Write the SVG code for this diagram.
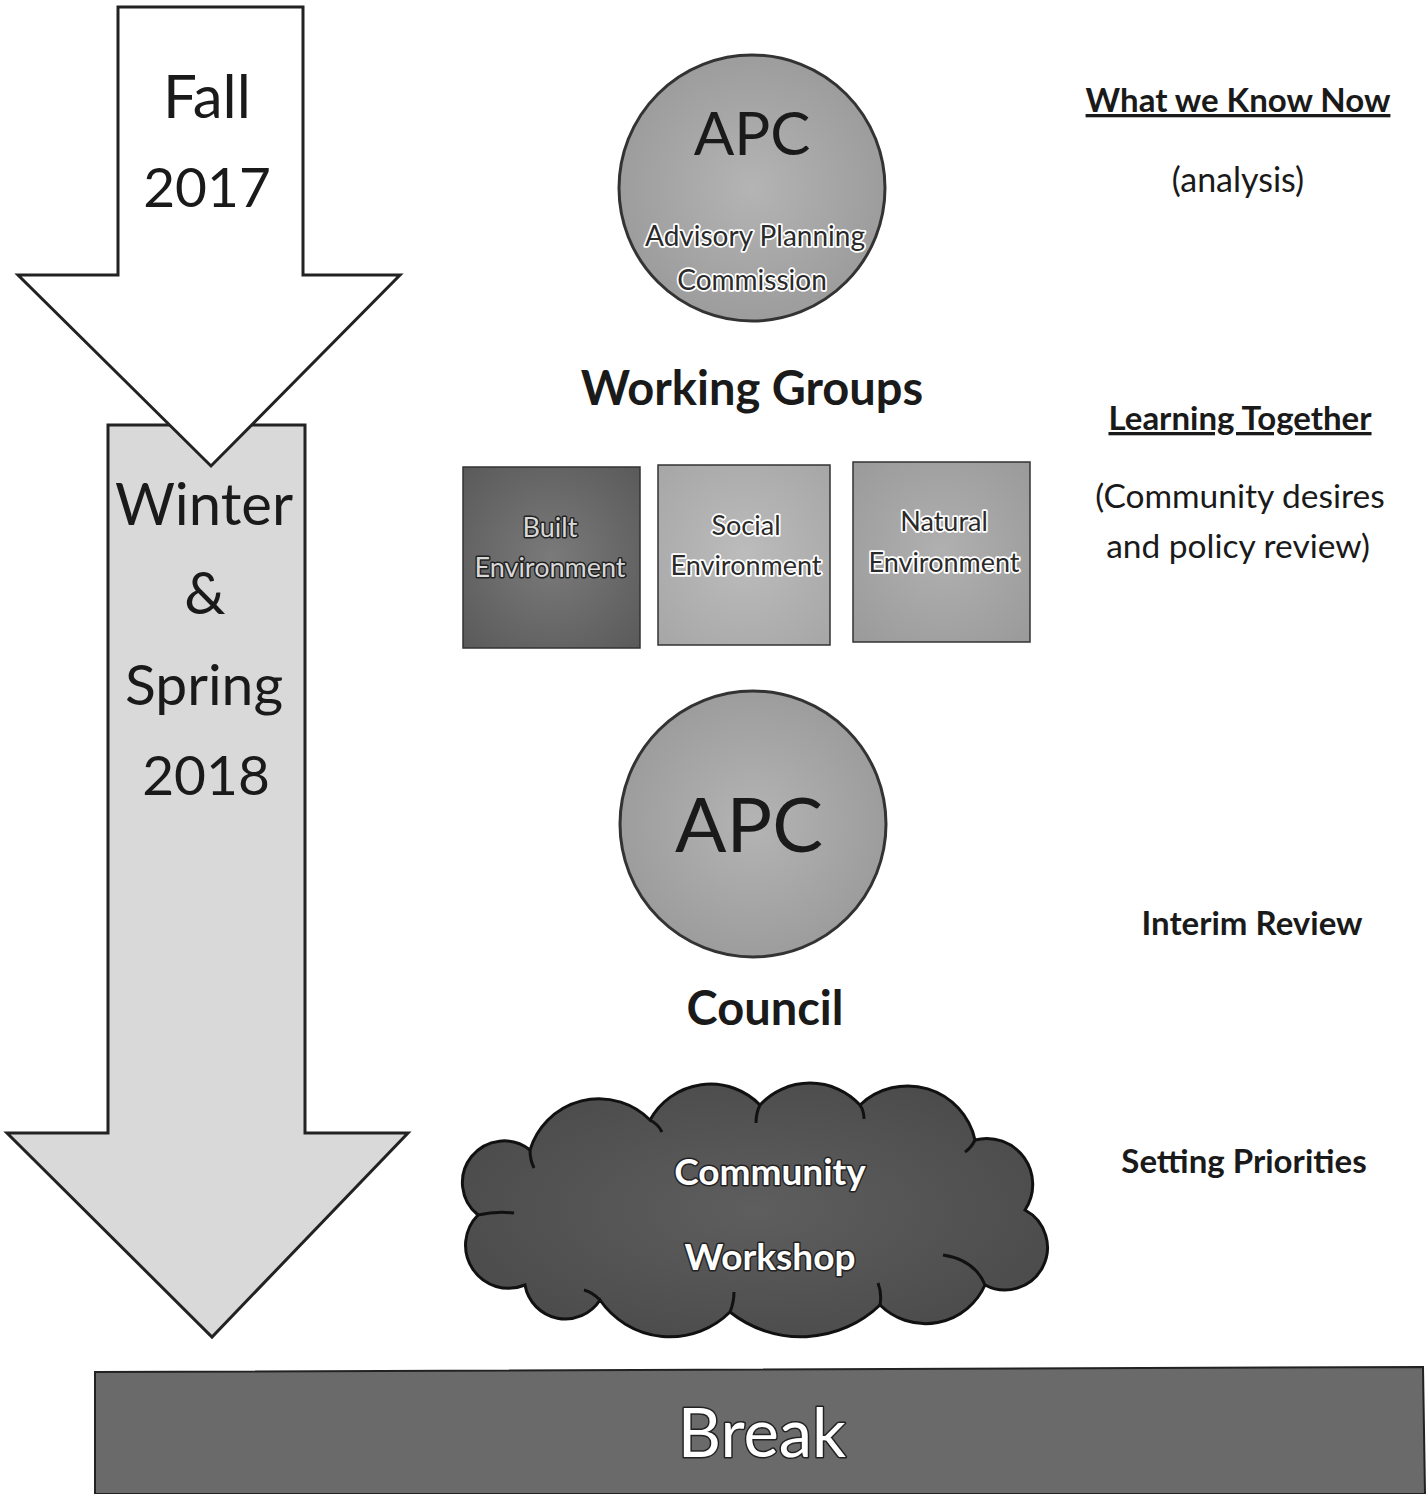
<svg xmlns="http://www.w3.org/2000/svg" width="1427" height="1494" viewBox="0 0 1427 1494">
<defs>
<radialGradient id="gBuilt" cx="50%" cy="50%" r="70%"><stop offset="0" stop-color="#7a7a7a"/><stop offset="1" stop-color="#5a5a5a"/></radialGradient>
<radialGradient id="gSoc" cx="50%" cy="50%" r="70%"><stop offset="0" stop-color="#bcbcbc"/><stop offset="1" stop-color="#a6a6a6"/></radialGradient>
<radialGradient id="gNat" cx="50%" cy="50%" r="70%"><stop offset="0" stop-color="#b0b0b0"/><stop offset="1" stop-color="#9a9a9a"/></radialGradient>
<radialGradient id="gCirc" cx="50%" cy="50%" r="60%"><stop offset="0" stop-color="#b4b4b4"/><stop offset="1" stop-color="#989898"/></radialGradient>
<radialGradient id="gCloud" cx="50%" cy="50%" r="60%"><stop offset="0" stop-color="#5e5e5e"/><stop offset="1" stop-color="#4a4a4a"/></radialGradient>
</defs>
<style>
.t{font-family:Lato,"Open Sans","Liberation Sans",sans-serif;fill:#1a1a1a;text-anchor:middle}
.b{font-weight:bold}
.edge{stroke:#222;stroke-width:3;stroke-linejoin:miter}
.halo{fill:#fff;stroke:#fff;stroke-width:3.5;stroke-linejoin:round}
.dk{fill:#2a2a2a}
.haloD{fill:#222;stroke:#222;stroke-width:3;stroke-linejoin:round}
.lt{fill:#d8d8d8}
.wt{fill:#fff;stroke:#222;stroke-width:3;paint-order:stroke;stroke-linejoin:round}
</style>
<rect width="1427" height="1494" fill="#fff"/>

<g id="arrow-winter">
<polygon class="edge" fill="#d9d9d9" points="108,425 305,425 305,1133 408,1133 212,1337 7,1133 108,1133"/>
<text class="t" x="204" y="525" font-size="58">Winter</text>
<text class="t" x="205" y="614" font-size="58">&amp;</text>
<text class="t" x="204" y="705" font-size="57">Spring</text>
<text class="t" x="206" y="795" font-size="55">2018</text>
</g>

<g id="arrow-fall">
<polygon class="edge" fill="#fff" points="118,7 303,7 303,275 400,275 211,466 18,275 118,275"/>
<text class="t" x="207" y="118" font-size="60">Fall</text>
<text class="t" x="207" y="207" font-size="55">2017</text>
</g>

<g id="apc-top">
<circle cx="752" cy="188" r="133" fill="url(#gCirc)" stroke="#333" stroke-width="3"/>
<text class="t" x="752" y="155" font-size="60">APC</text>
<text class="t halo" x="755" y="246" font-size="28">Advisory Planning</text>
<text class="t dk" x="755" y="246" font-size="28">Advisory Planning</text>
<text class="t halo" x="752" y="290" font-size="28">Commission</text>
<text class="t dk" x="752" y="290" font-size="28">Commission</text>
</g>

<g id="working-groups">
<text class="t b" x="752" y="405" font-size="47">Working Groups</text>
</g>

<g id="built">
<rect x="463" y="467" width="177" height="181" fill="url(#gBuilt)" stroke="#333" stroke-width="1.5"/>
<text class="t haloD" x="550" y="537" font-size="27">Built</text>
<text class="t lt" x="550" y="537" font-size="27">Built</text>
<text class="t haloD" x="550" y="577" font-size="27">Environment</text>
<text class="t lt" x="550" y="577" font-size="27">Environment</text>
</g>
<g id="social">
<rect x="658" y="465" width="172" height="180" fill="url(#gSoc)" stroke="#333" stroke-width="1.5"/>
<text class="t halo" x="746" y="535" font-size="27">Social</text>
<text class="t dk" x="746" y="535" font-size="27">Social</text>
<text class="t halo" x="746" y="575" font-size="27">Environment</text>
<text class="t dk" x="746" y="575" font-size="27">Environment</text>
</g>
<g id="natural">
<rect x="853" y="462" width="177" height="180" fill="url(#gNat)" stroke="#333" stroke-width="1.5"/>
<text class="t halo" x="944" y="531" font-size="27">Natural</text>
<text class="t dk" x="944" y="531" font-size="27">Natural</text>
<text class="t halo" x="944" y="572" font-size="27">Environment</text>
<text class="t dk" x="944" y="572" font-size="27">Environment</text>
</g>

<g id="apc-mid">
<circle cx="753" cy="824" r="133" fill="url(#gCirc)" stroke="#333" stroke-width="3"/>
<text class="t" x="749" y="852" font-size="76">APC</text>
</g>

<g id="council">
<text class="t b" x="765" y="1025" font-size="47">Council</text>
</g>

<g id="workshop">
<path d="M 525,1285 A 43 43 0 0 1 478,1215 A 40 40 0 0 1 530,1150 A 72 72 0 0 1 650,1120 A 69 69 0 0 1 760,1105 A 68 68 0 0 1 860,1105 A 69 69 0 0 1 975,1140 A 46 46 0 0 1 1025,1210 A 42 42 0 0 1 985,1285 A 65 65 0 0 1 880,1305 A 114 114 0 0 1 730,1312 A 85 85 0 0 1 600,1300 A 41 41 0 0 1 525,1285 Z" fill="url(#gCloud)" stroke="#111" stroke-width="3"/>
<path d="M 530,1150 q 0,10 4,18 M 650,1120 q 8,4 12,12 M 760,1105 q -4,8 -4,18 M 860,1105 q 4,6 4,14 M 975,1140 q -4,8 -10,12 M 985,1285 q -10,-25 -42,-30 M 880,1305 q 2,-12 -2,-22 M 730,1312 q 4,-10 4,-20 M 600,1300 q -8,-8 -16,-10 M 478,1215 q 18,-4 36,-2" fill="none" stroke="#111" stroke-width="3"/>
<text class="t b wt" x="770" y="1185" font-size="37">Community</text>
<text class="t b wt" x="770" y="1270" font-size="37">Workshop</text>
</g>

<g id="break">
<polygon points="95,1372 1423,1367 1425,1494 95,1494" fill="#6a6a6a" stroke="#222" stroke-width="2"/>
<text class="t wt" x="762" y="1457" font-size="67">Break</text>
</g>

<g id="labels">
<text class="t b" x="1238" y="112" font-size="33" text-decoration="underline">What we Know Now</text>
<text class="t" x="1238" y="192" font-size="34">(analysis)</text>
<text class="t b" x="1240" y="430" font-size="33" text-decoration="underline">Learning Together</text>
<text class="t" x="1240" y="508" font-size="33.5">(Community desires</text>
<text class="t" x="1238" y="558" font-size="33.5">and policy review)</text>
<text class="t b" x="1252" y="935" font-size="33">Interim Review</text>
<text class="t b" x="1244" y="1173" font-size="33">Setting Priorities</text>
</g>

<g id="connectors"></g>
</svg>
